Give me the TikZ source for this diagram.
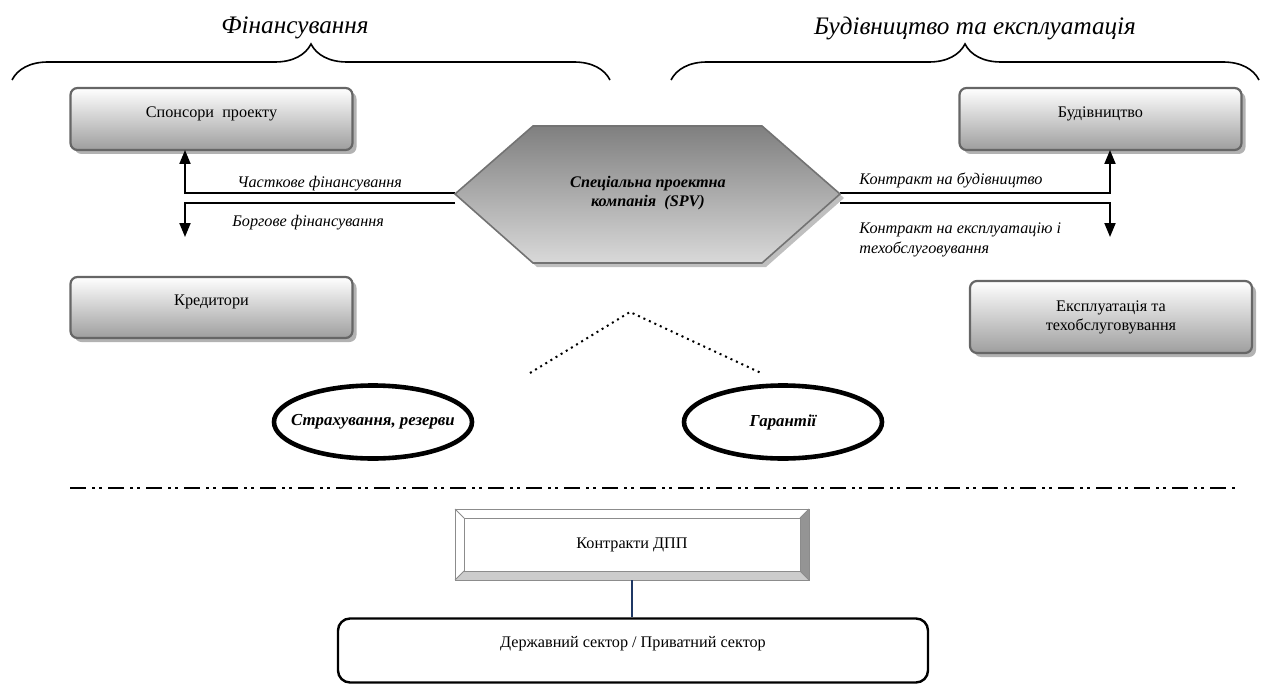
\documentclass[tikz,border=0pt]{standalone}
\usepackage{fontspec}
\setmainfont{Liberation Serif}
\usetikzlibrary{shapes.geometric,shadows,arrows.meta,decorations.pathreplacing}

\definecolor{linkblue}{RGB}{31,56,100}

\tikzstyle{partybox} = [draw=black!60, line width=1.1pt, rectangle, rounded corners=3.5pt,
    top color=white, bottom color=black!38, minimum width=141pt, outer sep=0pt,
    drop shadow={shadow xshift=2pt, shadow yshift=-2pt, fill=black!30, opacity=1},
    font=\fontsize{8.1}{9.5}\selectfont, align=center]
\tikzstyle{flowarrow} = [line width=1pt, -{Triangle[width=5.5pt,length=7pt]}]
\tikzstyle{flowlabel} = [font=\fontsize{8.1}{10}\selectfont\itshape, inner sep=0pt, align=left]
\tikzstyle{risk} = [ellipse, draw=black, line width=2.3pt, minimum width=99pt, minimum height=36.5pt,
    inner sep=0pt, font=\fontsize{8.4}{10}\selectfont\bfseries\itshape]
\tikzstyle{grouptitle} = [font=\fontsize{12.6}{14}\selectfont\itshape]
\tikzstyle{groupbrace} = [decorate, decoration={brace, amplitude=18pt}, line width=0.8pt]

\begin{document}
\begin{tikzpicture}[x=0.5pt,y=-0.5pt]
\useasboundingbox (0,0) rectangle (1261,684);

% group titles and braces
\node[grouptitle] (fintitle) at (295,28) {Фінансування};
\node[grouptitle] (buildtitle) at (975,28) {Будівництво та експлуатація};
\draw[groupbrace] (12,80) -- (610,80);
\draw[groupbrace] (671,80) -- (1259,80);

% parties
\node[partybox, minimum height=31pt, text depth=7pt] (sponsor) at (211.5,119) {Спонсори~~проекту};
\node[partybox, minimum height=30.5pt, text depth=7pt] (creditor) at (211.5,307.5) {Кредитори};
\node[partybox, minimum height=31pt, text depth=7pt] (build) at (1100.5,119) {Будівництво};
\node[partybox, minimum height=36pt] (operate) at (1111,317) {Експлуатація та\\техобслуговування};

% flows to and from the SPV
\coordinate (spvW) at (455,193);
\coordinate (spvWlow) at (455,203);
\coordinate (spvE) at (840,193);
\coordinate (spvElow) at (840,203);
\coordinate (debtend) at (185,237);
\coordinate (opend) at (1110,237);
\draw[flowarrow] (spvW) -| ([xshift=-13.25pt]sponsor.south);
\draw[flowarrow] (spvWlow) -| (debtend);
\draw[flowarrow] (spvE) -| ([xshift=4.75pt]build.south);
\draw[flowarrow] (spvElow) -| (opend);

\node[flowlabel, anchor=base west] (equitylbl) at (237,188) {Часткове фінансування};
\node[flowlabel, anchor=west] (debtlbl) at (232,223) {Боргове фінансування};
\node[flowlabel, anchor=west] (buildlbl) at (859,180) {Контракт на будівництво};
\node[flowlabel, anchor=north west] (operlbl) at (859,222) {Контракт на експлуатацію і\\техобслуговування};

% special purpose vehicle
\path[draw=black!55, line width=0.8pt, top color=black!50, bottom color=black!15,
    drop shadow={shadow xshift=2pt, shadow yshift=-2pt, fill=black!25, opacity=1}]
    (455,194) -- (533,126) -- (762,126) -- (840,194) -- (762,263) -- (533,263) -- cycle;
\node[font=\fontsize{8.1}{9.3}\selectfont\bfseries\itshape, align=center] (spv) at (648,193)
    {Спеціальна проектна\\компанія~~(SPV)};

% risk cover
\coordinate (roofL) at (530,373);
\coordinate (roofTop) at (630,312);
\coordinate (roofR) at (761,373);
\draw[dotted, line width=1pt] (roofL) -- (roofTop) -- (roofR);
\node[risk] (insurance) at (373,422) {\makebox[0pt]{Страхування, резерви}};
\node[risk] (guarantee) at (783,422) {\makebox[0pt]{Гарантії}};

% separator
\draw[line width=1.2pt, dash pattern=on 8pt off 3pt on 1.5pt off 2pt on 1.5pt off 3pt] (70,488) -- (1235,488);

% contracts
\node[draw=black!45, outer sep=0pt, minimum width=177pt, minimum height=35.5pt,
    font=\fontsize{8.1}{10}\selectfont] (ppp) at (632,544.5) {Контракти ДПП};
\fill[black!20] (ppp.south west) -- (ppp.south east) -- ([shift={(-4.5pt,4.5pt)}]ppp.south east)
    -- ([shift={(4.5pt,4.5pt)}]ppp.south west) -- cycle;
\fill[black!42] (ppp.south east) -- (ppp.north east) -- ([shift={(-4.5pt,-4.5pt)}]ppp.north east)
    -- ([shift={(-4.5pt,4.5pt)}]ppp.south east) -- cycle;
\draw[black!45] (ppp.south west) rectangle (ppp.north east);
\draw[black!45] ([shift={(4.5pt,4.5pt)}]ppp.south west) rectangle ([shift={(-4.5pt,-4.5pt)}]ppp.north east);
\foreach \c/\dx/\dy in {south west/4.5/4.5, south east/-4.5/4.5, north west/4.5/-4.5, north east/-4.5/-4.5}
    \draw[black!45] (ppp.\c) -- ([shift={(\dx pt,\dy pt)}]ppp.\c);

\node[draw, line width=1.2pt, rounded corners=6pt, minimum width=295pt, minimum height=32pt,
    text depth=9pt, font=\fontsize{8.1}{10}\selectfont] (sector) at (633,650.5)
    {Державний сектор / Приватний сектор};
\draw[linkblue, line width=1.3pt] (ppp.south) -- (ppp.south |- sector.north);
\end{tikzpicture}
\end{document}
